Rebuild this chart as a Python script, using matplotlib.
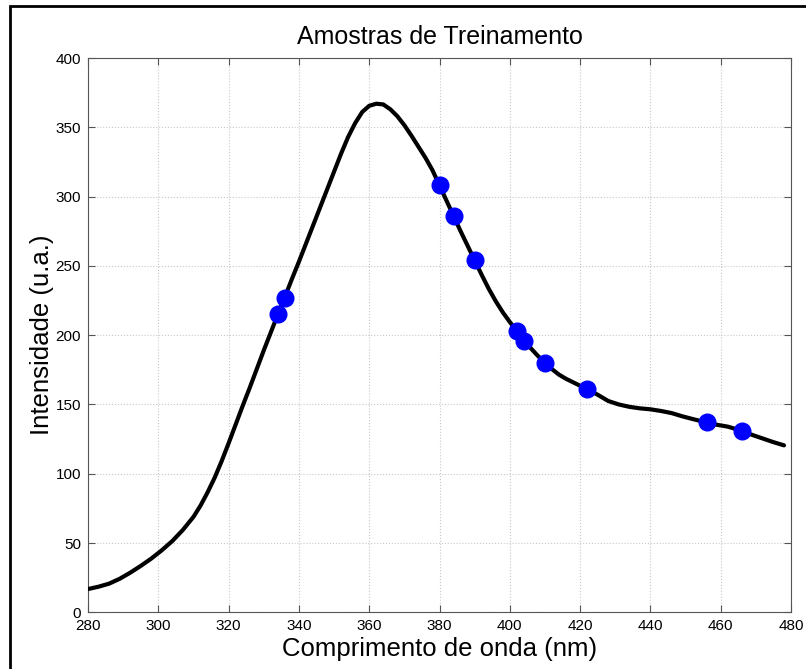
import numpy as np
import matplotlib
matplotlib.use("Agg")
import matplotlib.pyplot as plt
from matplotlib.patches import Rectangle

plt.rcParams['font.family'] = ['Liberation Sans', 'DejaVu Sans']

# curve
onda = [280, 283, 286, 289, 292, 295, 298, 301, 304, 307,
        310, 312, 314, 316, 318, 320, 322, 324, 326, 328,
        330, 332, 334, 336, 338, 340, 342, 344, 346, 348,
        350, 352, 354, 356, 358, 360, 362, 364, 366, 368,
        370, 372, 374, 376, 378, 380, 382, 384, 386, 388,
        390, 392, 394, 396, 398, 400, 402, 404, 406, 408,
        410, 412, 414, 416, 418, 420, 422, 425, 428, 431,
        434, 437, 440, 443, 446, 449, 452, 456, 459, 462,
        466, 469, 472, 475, 478]
intens = [16.8, 18.5, 20.7, 24.2, 28.6, 33.5, 38.8, 44.8, 51.5, 59.5,
          68.9, 77, 86.5, 97, 109, 122, 135.5, 149, 162, 175.5,
          189, 202, 215, 227.5, 240.5, 253, 266, 279, 292, 305,
          318, 331, 343, 353, 361, 365.5, 367, 366.5, 363, 358,
          351.5, 344, 336, 328, 319, 308, 297, 286, 275, 264.5,
          254, 243.5, 233.5, 224.5, 216.5, 209.5, 203, 196, 190.5, 185,
          180, 175.5, 171.5, 168.5, 166, 163.5, 161, 157, 152.5, 150,
          148.3, 147.2, 146.5, 145.3, 143.8, 141.5, 139.5, 137, 135.3, 134,
          131, 128, 125.4, 122.8, 120.5]

# training samples
amostra_x = [334, 336, 380, 384, 390, 402, 404, 410, 422, 456, 466]
amostra_y = [215, 227, 308, 286, 254, 203, 196, 180, 161, 137, 131]

xticks = np.arange(280, 481, 20)
yticks = np.arange(0, 401, 50)

fig = plt.figure(figsize=(8.06, 6.69), dpi=100)
ax = fig.add_axes([0.1092, 0.0847, 0.8722, 0.8286])

ax.plot(onda, intens, color='black', lw=3, zorder=3,
        solid_joinstyle='round', solid_capstyle='round')
ax.plot(amostra_x, amostra_y, 'o', color='#0000ff', ms=12, zorder=4)

ax.set_xlim(280, 480)
ax.set_ylim(0, 400)
ax.set_xticks(xticks)
ax.set_yticks(yticks)
ax.grid(True, ls=':', color='#c8c8c8', lw=0.8)
ax.tick_params(direction='in', top=True, right=True, labelsize=11,
               length=5, color='#555555', pad=5)
for s in ax.spines.values():
    s.set_color('#555555')

ax.set_title('Amostras de Treinamento', fontsize=18, pad=10)
ax.set_xlabel('Comprimento de onda (nm)', fontsize=18.5, labelpad=3)
ax.set_ylabel('Intensidade (u.a.)', fontsize=18.5, labelpad=1)

# outer frame of the figure
fig.patches.append(Rectangle((10/806, -0.1), 1.2, 1.1 - 6/669,
                             transform=fig.transFigure, fill=False,
                             ec='black', lw=2, clip_on=False))

fig.savefig('out.png', dpi=100)
